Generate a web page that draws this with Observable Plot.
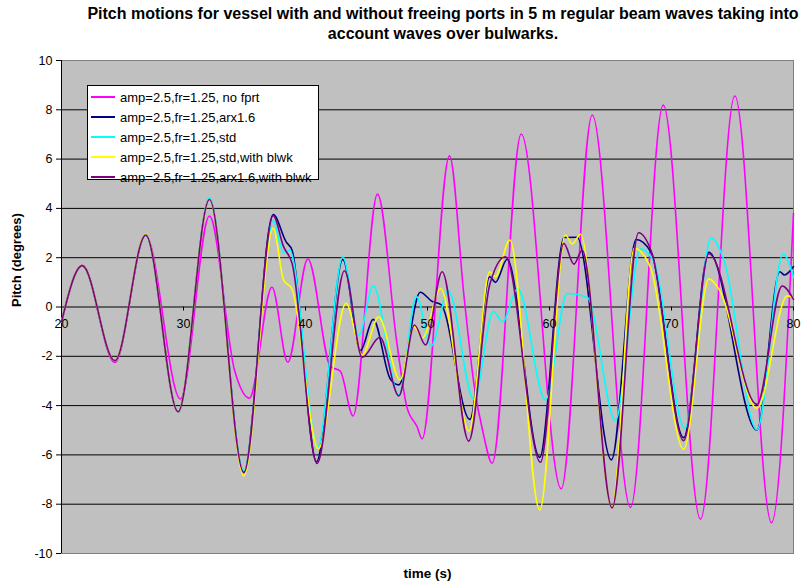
<!DOCTYPE html>
<html>
<head>
<meta charset="utf-8">
<script src="https://cdn.jsdelivr.net/npm/d3@7"></script>
<script src="https://cdn.jsdelivr.net/npm/@observablehq/plot@0.6"></script>
<style>
  html, body { margin: 0; padding: 0; background: #fff; }
  #page { position: relative; width: 801px; height: 585px; overflow: hidden; font-family: Arial, "Liberation Sans", sans-serif; }
  #title { position: absolute; left: 0; top: 0; width: 886px; height: 50px; text-align: center; font-weight: bold; font-size: 16px; line-height: 20px; padding-top: 4px; box-sizing: border-box; white-space: nowrap; }
  #chart { position: absolute; left: 0; top: 50px; }
  #legend { position: absolute; left: 87px; top: 85px; width: 232px; height: 95px; box-sizing: border-box; border: 1px solid #000; background: #fff; font-size: 13px; }
  #legend .row { position: absolute; left: 0; height: 20px; display: flex; align-items: center; white-space: nowrap; }
  #legend .swatch { width: 24px; height: 2px; margin-left: 3px; margin-right: 5px; }
</style>
</head>
<body>
<div id="page">
  <div id="title">Pitch motions for vessel with and without freeing ports in 5 m regular beam waves taking into<br>account waves over bulwarks.</div>
  <div id="chart"></div>
  <div id="legend"></div>
</div>
<script>
// Axis ticks
const timeTicks = [20, 30, 40, 50, 60, 70, 80];
const pitchTicks = [-10, -8, -6, -4, -2, 0, 2, 4, 6, 8, 10];

// Series labels, in drawing order
const seriesNames = [
  "amp=2.5,fr=1.25, no fprt",
  "amp=2.5,fr=1.25,arx1.6",
  "amp=2.5,fr=1.25,std",
  "amp=2.5,fr=1.25,std,with blwk",
  "amp=2.5,fr=1.25,arx1.6,with blwk"
];
const seriesColors = ["#ff00ff", "#000080", "#00ffff", "#ffff00", "#800080"];

// Pitch (degrees) against time (s): [time, pitch]
const noFprt = [
  [20, -0.6], [21.7, 1.68], [24.37, -2.25], [26.9, 2.9], [29.75, -3.73], [32.13, 3.69],
  [34.2, -2.6], [35.4, -3.7], [37.25, 0.8], [38.55, -2.24], [40.19, 1.95], [42.05, -2.42],
  [42.85, -2.6], [43.9, -4.42], [45.9, 4.58], [47.5, -1.5], [48.3, -4.04], [49.15, -4.86],
  [49.56, -5.35], [51.8, 6.13], [53.0, 0.4], [53.8, -3.1], [54.6, -5.2], [55.3, -6.34],
  [57.68, 7.02], [60.96, -7.38], [63.5, 7.79], [66.64, -8.14], [69.32, 8.19], [72.38, -8.61],
  [75.19, 8.56], [78.2, -8.75], [80, 3.8]
];
const arx16 = [
  [20, -0.6], [21.7, 1.68], [24.37, -2.18], [26.9, 2.92], [29.56, -4.25], [32.13, 4.38],
  [34.95, -6.7], [37.35, 3.75], [38.4, 2.65], [38.9, 2.3], [40.9, -6.28], [43.06, 1.93],
  [44.5, -1.77], [45.55, -0.5], [46.95, -2.92], [47.65, -3.16], [49.4, 0.6], [50.4, 0.22],
  [51.1, 0.1], [53.47, -4.56], [55.1, 1.23], [55.57, 1.0], [56.53, 1.94], [59.2, -6.1],
  [61.2, 2.82], [62.25, 2.83], [65.08, -6.2], [67.1, 2.74], [68.3, 2.24], [71.0, -5.3],
  [73.06, 2.22], [77.0, -4.99], [78.88, 1.43], [79.26, 1.3], [80, 1.64]
];
const std = [
  [20, -0.6], [21.7, 1.68], [24.37, -2.18], [26.9, 2.92], [29.56, -4.25], [32.13, 4.42],
  [34.95, -6.65], [37.35, 3.5], [38.2, 2.2], [38.7, 2.3], [41.0, -5.7], [43.06, 2.04],
  [44.37, -1.14], [45.55, 0.85], [47.65, -3.57], [49.1, 0.42], [50.3, -1.58], [51.7, 0.66],
  [53.8, -3.75], [55.4, -0.17], [56.15, -0.6], [57.4, 0.74], [59.67, -3.77], [61.45, 0.55],
  [63.1, 0.39], [65.4, -4.6], [67.46, 2.36], [68.55, 1.84], [71.1, -4.92], [73.25, 2.81],
  [74.3, 1.9], [77.0, -4.98], [79.15, 2.15], [80, 1.2]
];
const stdBlwk = [
  [20, -0.6], [21.7, 1.68], [24.37, -2.18], [26.9, 2.95], [29.56, -4.25], [32.13, 4.36],
  [34.95, -6.85], [37.35, 3.19], [38.2, 1.1], [38.9, 0.72], [41.05, -5.75], [43.33, 0.15],
  [44.65, -1.95], [46.0, -0.4], [47.75, -2.96], [48.9, -0.8], [49.6, -1.25], [51.07, 0.75],
  [53.4, -5.03], [55.1, 1.43], [55.57, 1.23], [56.75, 2.72], [59.2, -8.24], [61.3, 2.92],
  [61.86, 2.56], [62.54, 2.95], [65.13, -8.13], [66.95, 2.38], [68.3, 1.57], [71.0, -5.77],
  [73.06, 1.14], [73.9, 0.72], [77.0, -4.11], [79.5, 0.45], [80, 0.38]
];
const arx16Blwk = [
  [20, -0.6], [21.7, 1.68], [24.37, -2.18], [26.9, 2.92], [29.56, -4.25], [32.13, 4.36],
  [34.95, -6.72], [37.35, 3.7], [38.2, 2.45], [38.9, 1.77], [40.95, -6.35], [43.2, 1.47],
  [44.65, -2.04], [46.1, -1.23], [47.65, -3.61], [48.93, -0.73], [49.84, -1.54], [51.2, 1.43],
  [53.38, -5.44], [55.1, 0.9], [56.39, 2.04], [59.26, -6.3], [61.17, 2.58], [62.0, 1.74],
  [62.68, 2.3], [65.13, -8.15], [67.3, 3.01], [68.4, 2.18], [71.0, -5.42], [73.06, 2.16],
  [77.0, -3.95], [79.07, 0.85], [80, 0.31]
];

const seriesData = [noFprt, arx16, std, stdBlwk, arx16Blwk];

const lineMarks = seriesData.map((rows, i) =>
  Plot.line(rows, {
    x: d => d[0],
    y: d => d[1],
    stroke: seriesColors[i],
    strokeWidth: 1.6,
    curve: "monotone-x"
  })
);

const chart = Plot.plot({
  width: 801,
  height: 535,
  marginTop: 10,
  marginBottom: 32,
  marginLeft: 61,
  marginRight: 8,
  style: { fontFamily: 'Arial, "Liberation Sans", sans-serif', fontSize: "12.5px", color: "#000", background: "transparent" },
  x: { domain: [20, 80], axis: null },
  y: { domain: [-10, 10] },
  marks: [
    Plot.frame({ fill: "#c0c0c0", stroke: "#808080" }),
    Plot.ruleY(pitchTicks.filter(d => d > -10 && d < 10), { stroke: "#000", strokeWidth: 1 }),
    Plot.ruleX([20], { stroke: "#000" }),
    Plot.axisY({ ticks: pitchTicks, tickSize: 5, tickPadding: 4, tickFormat: d => String(d), label: null }),
    ...lineMarks,
    Plot.ruleX(timeTicks, { x: d => d, y1: 0, y2: 0, insetBottom: -4, stroke: "#000" }),
    Plot.text(timeTicks, { x: d => d, y: 0, text: d => String(d), lineAnchor: "top", dy: 12 }),
    Plot.text(["Pitch (degrees)"], { frameAnchor: "left", dx: -45, rotate: -90, fontWeight: "bold", fontSize: 13 }),
    Plot.text(["time (s)"], { frameAnchor: "bottom", dy: 24, fontWeight: "bold", fontSize: 13.5 })
  ]
});
document.getElementById("chart").appendChild(chart);

// Legend box
const legend = document.getElementById("legend");
seriesNames.forEach((name, i) => {
  const row = document.createElement("div");
  row.className = "row";
  row.style.top = (1 + 20 * i) + "px";
  const sw = document.createElement("span");
  sw.className = "swatch";
  sw.style.background = seriesColors[i];
  const label = document.createElement("span");
  label.textContent = name;
  row.appendChild(sw);
  row.appendChild(label);
  legend.appendChild(row);
});
</script>
</body>
</html>
